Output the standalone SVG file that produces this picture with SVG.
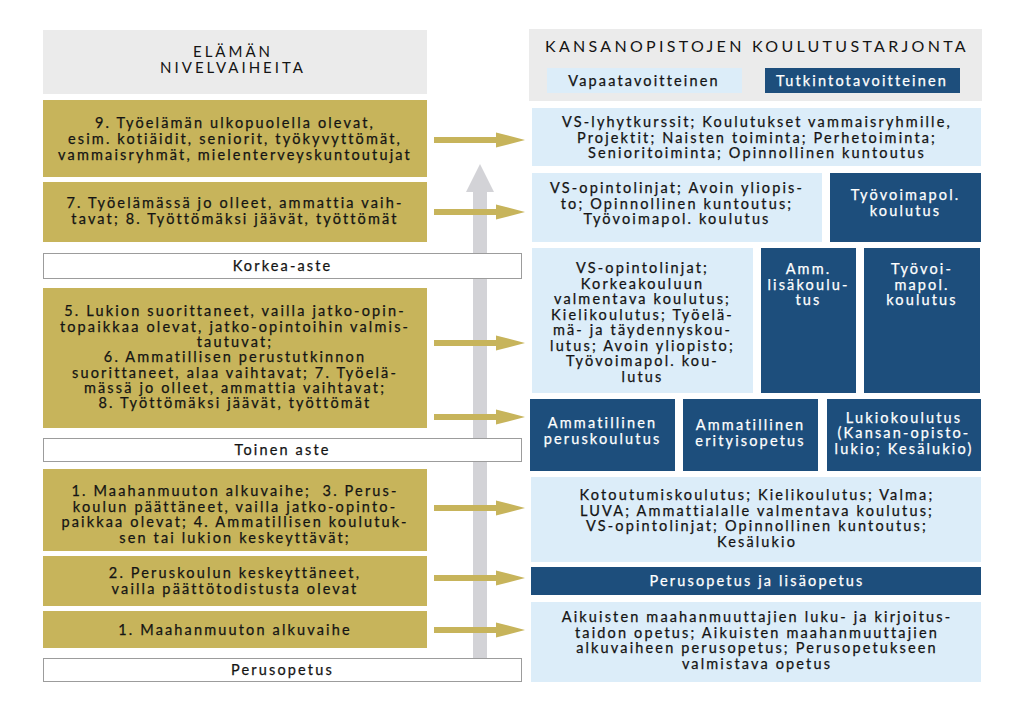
<svg xmlns="http://www.w3.org/2000/svg" width="1024" height="702" viewBox="0 0 1024 702">
<defs>
<style>
.bg{fill:#ffffff}
.hdr{fill:#ebebeb}
.gold{fill:#c7b45b}
.lb{fill:#dcedf9}
.db{fill:#1d4e7c}
.lvl{fill:#ffffff;stroke:#9c9c9c;stroke-width:1}
text{font-family:"Lato","Open Sans",sans-serif;font-size:14.5px;letter-spacing:2.15px;fill:#141414;stroke:#141414;stroke-width:0.25px;text-anchor:middle}
.w{fill:#ffffff;stroke:#ffffff}
.ttl{font-size:15px;letter-spacing:3px;stroke:none}
.ttl2{font-size:16px;letter-spacing:3.3px;stroke:none}
.arr{fill:#c7b45b}
.up{fill:#d3d3d7}
</style>
<g id="goldArrow"><rect x="434" y="-3" width="64" height="6"/><polygon points="496,-7.5 525,0 496,7.5"/></g>
</defs>
<rect class="bg" x="0" y="0" width="1024" height="702"/>

<g id="connectors">
<g id="vertical-arrow" class="up"><rect x="473" y="188" width="14" height="470"/><polygon points="480,164 494,192 466,192"/></g>
<g class="arr">
<use href="#goldArrow" y="140"/>
<use href="#goldArrow" y="212"/>
<use href="#goldArrow" y="343"/>
<use href="#goldArrow" y="417"/>
<use href="#goldArrow" y="508"/>
<use href="#goldArrow" y="578"/>
<use href="#goldArrow" y="630"/>
</g>
</g>

<g id="left-header"><rect class="hdr" x="43" y="30" width="384" height="64"/><text class="ttl" x="233" y="57">ELÄMÄN</text><text class="ttl" x="233" y="73">NIVELVAIHEITA</text></g>

<g id="g9"><rect class="gold" x="43" y="100" width="384" height="77"/>
<text x="235" y="127.5">9. Työelämän ulkopuolella olevat,</text>
<text x="235" y="143.5">esim. kotiäidit, seniorit, työkyvyttömät,</text>
<text x="235" y="159.5">vammaisryhmät, mielenterveyskuntoutujat</text></g>

<g id="g7"><rect class="gold" x="43" y="182" width="384" height="60"/>
<text x="235" y="208">7. Työelämässä jo olleet, ammattia vaih-</text>
<text x="235" y="224">tavat; 8. Työttömäksi jäävät, työttömät</text></g>

<g id="korkea"><rect class="lvl" x="43.5" y="253.5" width="478" height="25"/><text x="282.5" y="271">Korkea-aste</text></g>

<g id="g5"><rect class="gold" x="43" y="288" width="384" height="140"/>
<text x="235" y="316">5. Lukion suorittaneet, vailla jatko-opin-</text>
<text x="235" y="331.5">topaikkaa olevat, jatko-opintoihin valmis-</text>
<text x="235" y="347">tautuvat;</text>
<text x="235" y="362">6. Ammatillisen perustutkinnon</text>
<text x="235" y="377.5">suorittaneet, alaa vaihtavat; 7. Työelä-</text>
<text x="235" y="392.5">mässä jo olleet, ammattia vaihtavat;</text>
<text x="235" y="408">8. Työttömäksi jäävät, työttömät</text></g>

<g id="toinen"><rect class="lvl" x="43.5" y="438.5" width="478" height="23"/><text x="282.5" y="455">Toinen aste</text></g>

<g id="g134"><rect class="gold" x="43" y="469" width="384" height="82"/>
<text x="235" y="496">1. Maahanmuuton alkuvaihe;&#160; 3. Perus-</text>
<text x="235" y="511.5">koulun päättäneet, vailla jatko-opinto-</text>
<text x="235" y="527">paikkaa olevat; 4. Ammatillisen koulutuk-</text>
<text x="235" y="542.5">sen tai lukion keskeyttävät;</text></g>

<g id="g2"><rect class="gold" x="43" y="556" width="384" height="50"/>
<text x="235" y="578">2. Peruskoulun keskeyttäneet,</text>
<text x="235" y="593.5">vailla päättötodistusta olevat</text></g>

<g id="g1"><rect class="gold" x="43" y="611" width="384" height="37"/>
<text x="235" y="635">1. Maahanmuuton alkuvaihe</text></g>

<g id="perus"><rect class="lvl" x="43.5" y="658.5" width="478" height="23"/><text x="282.5" y="675">Perusopetus</text></g>

<g id="right-header"><rect class="hdr" x="529" y="29" width="453" height="72"/>
<text class="ttl2" x="757" y="52">KANSANOPISTOJEN KOULUTUSTARJONTA</text>
<rect class="lb" x="547" y="68" width="195" height="25"/><text x="644" y="85.5">Vapaatavoitteinen</text>
<rect class="db" x="765" y="68" width="195" height="25"/><text class="w" x="862" y="85.5">Tutkintotavoitteinen</text></g>

<g id="r9"><rect class="lb" x="532" y="108" width="449" height="58"/>
<text x="757" y="127">VS-lyhytkurssit; Koulutukset vammaisryhmille,</text>
<text x="757" y="142.5">Projektit; Naisten toiminta; Perhetoiminta;</text>
<text x="757" y="158">Senioritoiminta; Opinnollinen kuntoutus</text></g>

<g id="r7a"><rect class="lb" x="532" y="173" width="290" height="69"/>
<text x="677" y="193">VS-opintolinjat; Avoin yliopis-</text>
<text x="677" y="208.5">to; Opinnollinen kuntoutus;</text>
<text x="677" y="224">Työvoimapol. koulutus</text></g>

<g id="r7b"><rect class="db" x="830" y="173" width="151" height="69"/>
<text class="w" x="905.5" y="200">Työvoimapol.</text>
<text class="w" x="905.5" y="215.5">koulutus</text></g>

<g id="r5a"><rect class="lb" x="532" y="248" width="221" height="145"/>
<text x="642.5" y="273">VS-opintolinjat;</text>
<text x="642.5" y="288.5">Korkeakouluun</text>
<text x="642.5" y="304">valmentava koulutus;</text>
<text x="642.5" y="319.5">Kielikoulutus; Työelä-</text>
<text x="642.5" y="335">mä- ja täydennyskou-</text>
<text x="642.5" y="350.5">lutus; Avoin yliopisto;</text>
<text x="642.5" y="366">Työvoimapol. kou-</text>
<text x="642.5" y="381.5">lutus</text></g>

<g id="r5b"><rect class="db" x="761" y="248" width="95" height="145"/>
<text class="w" x="808.5" y="274">Amm.</text>
<text class="w" x="808.5" y="289.5">lisäkoulu-</text>
<text class="w" x="808.5" y="305">tus</text></g>

<g id="r5c"><rect class="db" x="864" y="248" width="116" height="145"/>
<text class="w" x="922" y="274">Työvoi-</text>
<text class="w" x="922" y="289.5">mapol.</text>
<text class="w" x="922" y="305">koulutus</text></g>

<g id="r6a"><rect class="db" x="530" y="399" width="145" height="72"/>
<text class="w" x="602.5" y="428">Ammatillinen</text>
<text class="w" x="602.5" y="443.5">peruskoulutus</text></g>

<g id="r6b"><rect class="db" x="683" y="399" width="135" height="72"/>
<text class="w" x="750.5" y="430">Ammatillinen</text>
<text class="w" x="750.5" y="445.5">erityisopetus</text></g>

<g id="r6c"><rect class="db" x="827" y="399" width="154" height="72"/>
<text class="w" x="904" y="422.5">Lukiokoulutus</text>
<text class="w" x="904" y="438">(Kansan-opisto-</text>
<text class="w" x="904" y="453.5">lukio; Kesälukio)</text></g>

<g id="r134"><rect class="lb" x="531" y="477" width="450" height="85"/>
<text x="757" y="500">Kotoutumiskoulutus; Kielikoulutus; Valma;</text>
<text x="757" y="515.5">LUVA; Ammattialalle valmentava koulutus;</text>
<text x="757" y="531">VS-opintolinjat; Opinnollinen kuntoutus;</text>
<text x="757" y="546.5">Kesälukio</text></g>

<g id="r2"><rect class="db" x="531" y="567" width="450" height="28"/>
<text class="w" x="757" y="586">Perusopetus ja lisäopetus</text></g>

<g id="r1"><rect class="lb" x="531" y="602" width="450" height="80"/>
<text x="757" y="622">Aikuisten maahanmuuttajien luku- ja kirjoitus-</text>
<text x="757" y="637.5">taidon opetus; Aikuisten maahanmuuttajien</text>
<text x="757" y="653">alkuvaiheen perusopetus; Perusopetukseen</text>
<text x="757" y="668.5">valmistava opetus</text></g>
</svg>
